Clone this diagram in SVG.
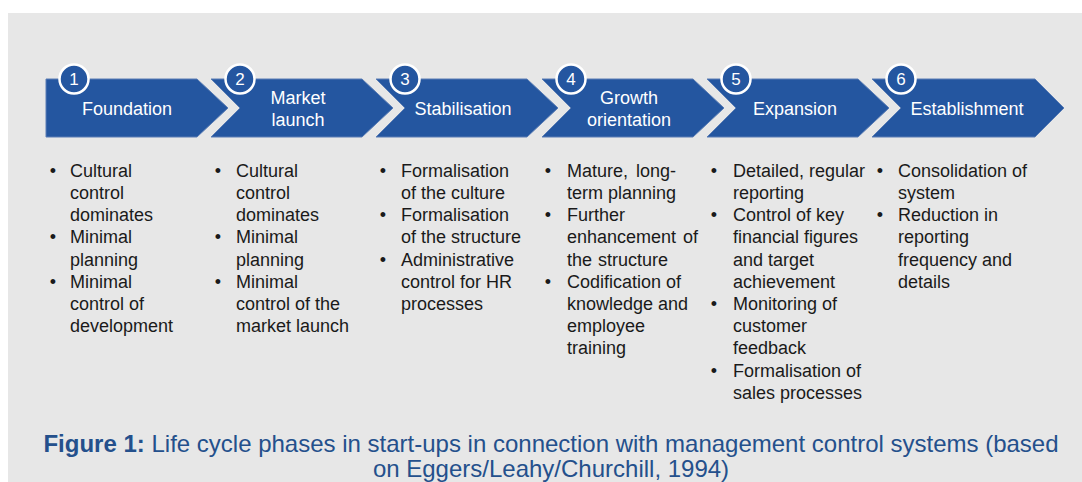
<svg xmlns="http://www.w3.org/2000/svg" width="1082" height="482" viewBox="0 0 1082 482">
<style>
.chev{fill:#2456a0;stroke:#5a7db5;stroke-width:1}
.num{fill:#2456a0;stroke:#ffffff;stroke-width:2.5}
.numt{font-family:"Liberation Sans",Arial,sans-serif;font-size:17px;fill:#ffffff;text-anchor:middle}
.lbl{font-family:"Liberation Sans",Arial,sans-serif;font-size:18px;fill:#ffffff;text-anchor:middle}
.bl{font-family:"Liberation Sans",Arial,sans-serif;font-size:18px;fill:#1a1a1a}
.bu{text-anchor:middle}
.cap{font-family:"Liberation Sans",Arial,sans-serif;font-size:24px;fill:#24508c;text-anchor:middle}
</style>
<rect x="8" y="13" width="1074" height="469" fill="#e7e7e7"/>
<g id="connectors"></g>
<g id="phase1">
<polygon class="chev" points="46,79 197,79 228,108 197,137 46,137"/>
<circle class="num" cx="74" cy="79" r="14.5"/>
<text class="numt" x="74" y="85">1</text>
<text class="lbl" x="127" y="115">Foundation</text>
</g>
<g id="phase2">
<polygon class="chev" points="211,79 362,79 393,108 362,137 211,137 240,108"/>
<circle class="num" cx="240" cy="79" r="14.5"/>
<text class="numt" x="240" y="85">2</text>
<text class="lbl" x="298" y="104">Market</text>
<text class="lbl" x="298" y="126">launch</text>
</g>
<g id="phase3">
<polygon class="chev" points="376,79 527,79 558,108 527,137 376,137 405,108"/>
<circle class="num" cx="405" cy="79" r="14.5"/>
<text class="numt" x="405" y="85">3</text>
<text class="lbl" x="463" y="115">Stabilisation</text>
</g>
<g id="phase4">
<polygon class="chev" points="542,79 693,79 724,108 693,137 542,137 571,108"/>
<circle class="num" cx="571" cy="79" r="14.5"/>
<text class="numt" x="571" y="85">4</text>
<text class="lbl" x="629" y="104">Growth</text>
<text class="lbl" x="629" y="126">orientation</text>
</g>
<g id="phase5">
<polygon class="chev" points="707,79 858,79 889,108 858,137 707,137 736,108"/>
<circle class="num" cx="736" cy="79" r="14.5"/>
<text class="numt" x="736" y="85">5</text>
<text class="lbl" x="795" y="115">Expansion</text>
</g>
<g id="phase6">
<polygon class="chev" points="872,79 1035,79 1064,108 1035,137 872,137 901,108"/>
<circle class="num" cx="901" cy="79" r="14.5"/>
<text class="numt" x="901" y="85">6</text>
<text class="lbl" x="967" y="115">Establishment</text>
</g>
<g id="list1" class="bl">
<text class="bu" x="53" y="177">•</text>
<text class="bu" x="53" y="243">•</text>
<text class="bu" x="53" y="288">•</text>
<text x="70" y="177">Cultural</text>
<text x="70" y="199">control</text>
<text x="70" y="221">dominates</text>
<text x="70" y="243">Minimal</text>
<text x="70" y="266">planning</text>
<text x="70" y="288">Minimal</text>
<text x="70" y="310">control of</text>
<text x="70" y="332">development</text>
</g>
<g id="list2" class="bl">
<text class="bu" x="218" y="177">•</text>
<text class="bu" x="218" y="243">•</text>
<text class="bu" x="218" y="288">•</text>
<text x="236" y="177">Cultural</text>
<text x="236" y="199">control</text>
<text x="236" y="221">dominates</text>
<text x="236" y="243">Minimal</text>
<text x="236" y="266">planning</text>
<text x="236" y="288">Minimal</text>
<text x="236" y="310">control of the</text>
<text x="236" y="332">market launch</text>
</g>
<g id="list3" class="bl">
<text class="bu" x="383" y="177">•</text>
<text class="bu" x="383" y="221">•</text>
<text class="bu" x="383" y="266">•</text>
<text x="401" y="177">Formalisation</text>
<text x="401" y="199">of the culture</text>
<text x="401" y="221">Formalisation</text>
<text x="401" y="243">of the structure</text>
<text x="401" y="266">Administrative</text>
<text x="401" y="288">control for HR</text>
<text x="401" y="310">processes</text>
</g>
<g id="list4" class="bl">
<text class="bu" x="548" y="177">•</text>
<text class="bu" x="548" y="221">•</text>
<text class="bu" x="548" y="288">•</text>
<text x="567" y="177" word-spacing="3">Mature, long-</text>
<text x="567" y="199">term planning</text>
<text x="567" y="221">Further</text>
<text x="567" y="243" word-spacing="2">enhancement of</text>
<text x="567" y="266" word-spacing="1">the structure</text>
<text x="567" y="288">Codification of</text>
<text x="567" y="310">knowledge and</text>
<text x="567" y="332">employee</text>
<text x="567" y="354">training</text>
</g>
<g id="list5" class="bl">
<text class="bu" x="714" y="177">•</text>
<text class="bu" x="714" y="221">•</text>
<text class="bu" x="714" y="310">•</text>
<text class="bu" x="714" y="377">•</text>
<text x="733" y="177">Detailed, regular</text>
<text x="733" y="199">reporting</text>
<text x="733" y="221">Control of key</text>
<text x="733" y="243">financial figures</text>
<text x="733" y="266">and target</text>
<text x="733" y="288">achievement</text>
<text x="733" y="310">Monitoring of</text>
<text x="733" y="332">customer</text>
<text x="733" y="354">feedback</text>
<text x="733" y="377">Formalisation of</text>
<text x="733" y="399">sales processes</text>
</g>
<g id="list6" class="bl">
<text class="bu" x="880" y="177">•</text>
<text class="bu" x="880" y="221">•</text>
<text x="898" y="177">Consolidation of</text>
<text x="898" y="199">system</text>
<text x="898" y="221">Reduction in</text>
<text x="898" y="243">reporting</text>
<text x="898" y="266">frequency and</text>
<text x="898" y="288">details</text>
</g>
<g id="caption" class="cap">
<text x="551" y="452"><tspan font-weight="bold">Figure 1:</tspan> Life cycle phases in start-ups in connection with management control systems (based</text>
<text x="551" y="477">on Eggers/Leahy/Churchill, 1994)</text>
</g>
</svg>
